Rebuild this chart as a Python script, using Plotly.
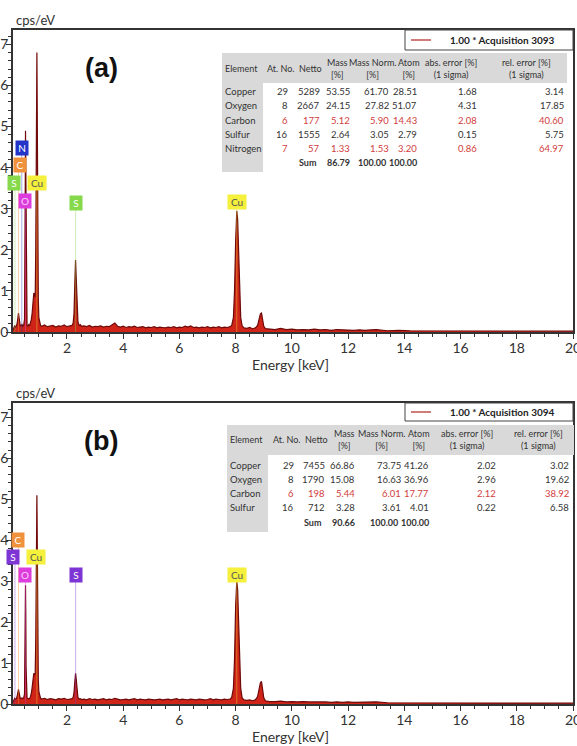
import plotly.graph_objects as go

# ---------------- data ----------------
energy_kev = [
    0.08, 0.11, 0.14, 0.17, 0.20, 0.23, 0.26, 0.275, 0.29, 0.31,
    0.34, 0.37, 0.40, 0.43, 0.46, 0.49, 0.505, 0.515, 0.525, 0.535,
    0.545, 0.56, 0.58, 0.61, 0.64, 0.67, 0.70, 0.73, 0.76, 0.79,
    0.82, 0.845, 0.87, 0.89, 0.91, 0.93, 0.945, 0.96, 0.98, 1.00,
    1.03, 1.06, 1.1, 1.2, 1.3, 1.4, 1.5, 1.6, 1.7, 1.8,
    1.9, 2.0, 2.1, 2.18, 2.22, 2.25, 2.28, 2.305, 2.33, 2.36,
    2.39, 2.43, 2.47, 2.52, 2.6, 2.7, 2.8, 2.9, 3.0, 3.1,
    3.2, 3.3, 3.4, 3.5, 3.6, 3.7, 3.8, 3.9, 4.0, 4.1,
    4.2, 4.3, 4.4, 4.5, 4.6, 4.7, 4.8, 4.9, 5.0, 5.1,
    5.2, 5.3, 5.4, 5.5, 5.6, 5.7, 5.8, 5.9, 6.0, 6.1,
    6.2, 6.3, 6.4, 6.5, 6.6, 6.7, 6.8, 6.9, 7.0, 7.1,
    7.2, 7.3, 7.4, 7.5, 7.6, 7.7, 7.8, 7.86, 7.92, 7.96,
    8.00, 8.04, 8.07, 8.10, 8.14, 8.18, 8.23, 8.3, 8.4, 8.5,
    8.6, 8.7, 8.78, 8.84, 8.88, 8.92, 8.96, 9.0, 9.06, 9.2,
    9.4, 9.6, 9.8, 10.0, 10.2, 10.4, 10.6, 10.8, 11.0, 11.2,
    11.4, 11.6, 11.8, 12.0, 12.2, 12.4, 12.6, 12.8, 13.0, 13.4,
    13.8, 14.2, 14.6, 15.0, 15.4, 15.8, 16.2, 16.6, 17.0, 17.4,
    17.8, 18.2, 18.6, 19.0, 19.4, 19.8, 20.0,
]

cps_a = [
    0.04, 0.10, 0.16, 0.12, 0.14, 0.22, 0.40, 0.46, 0.38, 0.18,
    0.14, 0.16, 0.18, 0.14, 0.17, 0.30, 1.20, 3.40, 4.90, 3.60,
    1.40, 0.35, 0.16, 0.14, 0.18, 0.15, 0.22, 0.30, 0.45, 0.70,
    0.95, 0.90, 0.85, 2.00, 5.20, 6.80, 5.00, 2.20, 0.80, 0.35,
    0.22, 0.16, 0.14, 0.17, 0.13, 0.15, 0.16, 0.12, 0.15, 0.14,
    0.17, 0.13, 0.15, 0.16, 0.22, 0.45, 1.20, 1.75, 1.30, 0.55,
    0.25, 0.15, 0.18, 0.14, 0.15, 0.13, 0.16, 0.12, 0.14, 0.13,
    0.15, 0.12, 0.14, 0.13, 0.17, 0.22, 0.14, 0.12, 0.14, 0.11,
    0.13, 0.12, 0.14, 0.11, 0.12, 0.13, 0.10, 0.12, 0.11, 0.13,
    0.10, 0.12, 0.11, 0.10, 0.12, 0.11, 0.13, 0.10, 0.12, 0.11,
    0.14, 0.12, 0.15, 0.11, 0.12, 0.10, 0.12, 0.11, 0.13, 0.10,
    0.12, 0.11, 0.13, 0.10, 0.12, 0.11, 0.13, 0.16, 0.35, 1.00,
    2.20, 2.95, 2.75, 1.90, 0.90, 0.35, 0.15, 0.10, 0.09, 0.11,
    0.08, 0.10, 0.16, 0.32, 0.44, 0.46, 0.30, 0.14, 0.08, 0.07,
    0.06, 0.09, 0.06, 0.07, 0.05, 0.06, 0.05, 0.07, 0.05, 0.06,
    0.04, 0.06, 0.05, 0.05, 0.04, 0.05, 0.04, 0.05, 0.06, 0.03,
    0.04, 0.03, 0.03, 0.02, 0.03, 0.02, 0.02, 0.03, 0.02, 0.02,
    0.02, 0.02, 0.02, 0.02, 0.02, 0.02, 0.02,
]

cps_b = [
    0.04, 0.10, 0.14, 0.12, 0.13, 0.20, 0.32, 0.36, 0.30, 0.16,
    0.13, 0.14, 0.15, 0.13, 0.15, 0.25, 0.90, 2.10, 2.90, 2.20,
    0.90, 0.28, 0.15, 0.13, 0.14, 0.13, 0.18, 0.25, 0.40, 0.62,
    0.75, 0.70, 0.75, 1.60, 3.80, 5.10, 3.80, 1.70, 0.60, 0.30,
    0.18, 0.14, 0.12, 0.14, 0.11, 0.13, 0.12, 0.10, 0.13, 0.12,
    0.14, 0.11, 0.12, 0.13, 0.16, 0.28, 0.55, 0.75, 0.60, 0.30,
    0.16, 0.12, 0.13, 0.11, 0.12, 0.10, 0.13, 0.11, 0.12, 0.10,
    0.11, 0.13, 0.10, 0.12, 0.11, 0.14, 0.12, 0.10, 0.11, 0.12,
    0.10, 0.11, 0.13, 0.10, 0.12, 0.11, 0.10, 0.12, 0.11, 0.10,
    0.11, 0.12, 0.10, 0.11, 0.12, 0.10, 0.11, 0.13, 0.10, 0.12,
    0.11, 0.10, 0.12, 0.11, 0.10, 0.12, 0.11, 0.10, 0.11, 0.13,
    0.10, 0.12, 0.11, 0.10, 0.12, 0.11, 0.12, 0.16, 0.38, 1.10,
    2.40, 3.00, 2.80, 2.00, 0.95, 0.38, 0.15, 0.10, 0.09, 0.10,
    0.08, 0.10, 0.18, 0.38, 0.52, 0.55, 0.35, 0.15, 0.08, 0.06,
    0.06, 0.07, 0.05, 0.06, 0.05, 0.06, 0.05, 0.05, 0.06, 0.05,
    0.04, 0.05, 0.04, 0.05, 0.04, 0.04, 0.05, 0.04, 0.05, 0.03,
    0.03, 0.03, 0.02, 0.03, 0.02, 0.02, 0.03, 0.02, 0.02, 0.02,
    0.02, 0.02, 0.02, 0.02, 0.02, 0.02, 0.02,
]

# element marker lines / labels
marker_symbols_a = ["S", "C", "N", "O", "Cu", "S", "Cu"]
marker_energy_a = [0.149, 0.277, 0.392, 0.525, 0.930, 2.307, 8.040]
marker_height_a = [3.62, 4.07, 4.49, 3.20, 3.62, 3.15, 3.17]

marker_symbols_b = ["S", "C", "O", "Cu", "S", "Cu"]
marker_energy_b = [0.149, 0.277, 0.525, 0.930, 2.307, 8.040]
marker_height_b = [3.60, 4.00, 3.15, 3.60, 3.15, 3.15]

# quantification tables
headers = ["Element", "At. No.", "Netto", "Mass<br>[%]", "Mass Norm.<br>[%]",
           "Atom<br>[%]", "abs. error [%]<br>(1 sigma)", "rel. error [%]<br>(1 sigma)"]

elements_a = ["Copper", "Oxygen", "Carbon", "Sulfur", "Nitrogen"]
at_no_a = [29, 8, 6, 16, 7]
netto_a = [5289, 2667, 177, 1555, 57]
mass_a = [53.55, 24.15, 5.12, 2.64, 1.33]
mass_norm_a = [61.70, 27.82, 5.90, 3.05, 1.53]
atom_a = [28.51, 51.07, 14.43, 2.79, 3.20]
abs_err_a = [1.68, 4.31, 2.08, 0.15, 0.86]
rel_err_a = [3.14, 17.85, 40.60, 5.75, 64.97]
flag_a = [False, False, True, False, True]
sum_a = [86.79, 100.00, 100.00]

elements_b = ["Copper", "Oxygen", "Carbon", "Sulfur"]
at_no_b = [29, 8, 6, 16]
netto_b = [7455, 1790, 198, 712]
mass_b = [66.86, 15.08, 5.44, 3.28]
mass_norm_b = [73.75, 16.63, 6.01, 3.61]
atom_b = [41.26, 36.96, 17.77, 4.01]
abs_err_b = [2.02, 2.96, 2.12, 0.22]
rel_err_b = [3.02, 19.62, 38.92, 6.58]
flag_b = [False, False, True, False]
sum_b = [90.66, 100.00, 100.00]

legend_a = "1.00 * Acquisition 3093"
legend_b = "1.00 * Acquisition 3094"

# ---------------- styling ----------------
W, H = 577, 746
def px(x):
    return x / W
def py(y):
    return 1 - y / H

FONT = "Lato, 'Open Sans', sans-serif"
TFONT = "Lato, 'Open Sans', sans-serif"
TXT = "#333333"
RED = "#d23c3c"
GRAY = "#d9d9d9"
SPEC_LINE = "#700a0a"
SPEC_FILL = "#cf2417"

elem_colors = {
    "a": {"S": ("#86d94a", "white"), "C": ("#f0913c", "white"), "N": ("#2334c9", "white"),
          "O": ("#dd3ddd", "#fbd0fb"), "Cu": ("#f4f03c", "#555555")},
    "b": {"S": ("#7d35d3", "white"), "C": ("#f0913c", "white"),
          "O": ("#dd3ddd", "#fbd0fb"), "Cu": ("#f4f03c", "#555555")},
}
label_xshift = {
    "a": [-1, 1, 0, -1, 0, 0, 0],
    "b": [-2, -1, -1, -1, 0, 0],
}

fig = go.Figure()
annotations = []
shapes = []

panels = [
    dict(key="a", xa="x", ya="y", cps=cps_a, sym=marker_symbols_a, me=marker_energy_a,
         mh=marker_height_a, top=30, bottom=332, letter="(a)", legend=legend_a,
         leg_box=(405, 573, 30, 50)),
    dict(key="b", xa="x2", ya="y2", cps=cps_b, sym=marker_symbols_b, me=marker_energy_b,
         mh=marker_height_b, top=403, bottom=704, letter="(b)", legend=legend_b,
         leg_box=(405, 573, 403, 421)),
]

for p in panels:
    fig.add_trace(go.Scatter(
        x=energy_kev, y=p["cps"], mode="lines", xaxis=p["xa"], yaxis=p["ya"],
        line=dict(color=SPEC_LINE, width=1.2), fill="tozeroy", fillcolor=SPEC_FILL,
        showlegend=False, hoverinfo="skip"))
    for i, (s, e, h) in enumerate(zip(p["sym"], p["me"], p["mh"])):
        col, tcol = elem_colors[p["key"]][s]
        fig.add_trace(go.Scatter(
            x=[e, e], y=[0, h], mode="lines", xaxis=p["xa"], yaxis=p["ya"],
            line=dict(color=col, width=1), opacity=0.4, showlegend=False, hoverinfo="skip"))
        annotations.append(dict(
            x=e, y=h, xref=p["xa"], yref=p["ya"], text=s, showarrow=False,
            xshift=label_xshift[p["key"]][i],
            font=dict(family=FONT, size=10, color=tcol), bgcolor=col,
            width=18 if s == "Cu" else 12, height=14, borderpad=0,
            xanchor="center", yanchor="middle"))
    # panel letter
    annotations.append(dict(x=px(101), y=py(p["top"] + 38), xref="paper", yref="paper",
                            text="<b>%s</b>" % p["letter"], showarrow=False,
                            font=dict(family="Liberation Sans, Arial", size=27, color="#111"),
                            xanchor="center", yanchor="middle"))
    # cps/eV
    annotations.append(dict(x=px(14), y=py(p["top"] - 10), xref="paper", yref="paper",
                            text="cps/eV", showarrow=False,
                            font=dict(family=FONT, size=13, color=TXT),
                            xanchor="left", yanchor="middle"))
    # x-axis title
    annotations.append(dict(x=px(290), y=py(p["bottom"] + 32), xref="paper", yref="paper",
                            text="Energy [keV]", showarrow=False,
                            font=dict(family=FONT, size=14, color=TXT),
                            xanchor="center", yanchor="middle"))
    # legend box
    x0, x1, y0, y1 = p["leg_box"]
    shapes.append(dict(type="rect", xref="paper", yref="paper", x0=px(x0), x1=px(x1),
                       y0=py(y1), y1=py(y0), line=dict(color="#444", width=1),
                       fillcolor="white"))
    ym = (y0 + y1) / 2
    shapes.append(dict(type="line", xref="paper", yref="paper", x0=px(x0 + 6), x1=px(x0 + 26),
                       y0=py(ym), y1=py(ym), line=dict(color="#c0504d", width=1.5)))
    annotations.append(dict(x=px(x0 + 43), y=py(ym), xref="paper", yref="paper",
                            text="<b>%s</b>" % p["legend"], showarrow=False,
                            font=dict(family=FONT, size=10, color="#222"),
                            xanchor="left", yanchor="middle"))


def add_table(geom, elements, cols, flags, sums):
    L, R, htop, hbot, ecol_r, bottom = geom["box"]
    shapes.append(dict(type="rect", xref="paper", yref="paper", x0=px(L), x1=px(R),
                       y0=py(hbot), y1=py(htop), line=dict(width=0), fillcolor=GRAY, layer="above"))
    shapes.append(dict(type="rect", xref="paper", yref="paper", x0=px(L), x1=px(ecol_r),
                       y0=py(bottom), y1=py(hbot), line=dict(width=0), fillcolor=GRAY, layer="above"))
    fh = dict(family=TFONT, size=9, color=TXT)
    f = dict(family=TFONT, size=9.5, color=TXT)
    fs = dict(family=TFONT, size=9, color=TXT)
    hy = (htop + hbot) / 2
    # headers
    annotations.append(dict(x=px(L + 1), y=py(hy), xref="paper", yref="paper", text=headers[0],
                            showarrow=False, font=fh, xanchor="left", yanchor="middle"))
    for hx, htxt in zip(geom["hcent"], headers[1:]):
        annotations.append(dict(x=px(hx), y=py(hy), xref="paper", yref="paper", text=htxt,
                                showarrow=False, font=fh, xanchor="center", yanchor="middle",
                                align="center"))
    # rows
    for r, name in enumerate(elements):
        yy = geom["row0"] + r * geom["dy"]
        annotations.append(dict(x=px(L + 1), y=py(yy), xref="paper", yref="paper", text=name,
                                showarrow=False, font=f, xanchor="left", yanchor="middle"))
        fc = dict(f, color=RED if flags[r] else TXT)
        for c, colvals in enumerate(cols):
            v = colvals[r]
            txt = str(v) if isinstance(v, int) else "%.2f" % v
            annotations.append(dict(x=px(geom["rights"][c]), y=py(yy), xref="paper", yref="paper",
                                    text=txt, showarrow=False, font=fc,
                                    xanchor="right", yanchor="middle"))
    yy = geom["row0"] + len(elements) * geom["dy"]
    annotations.append(dict(x=px(geom["rights"][1] - 3), y=py(yy), xref="paper", yref="paper",
                            text="<b>Sum</b>", showarrow=False, font=fs,
                            xanchor="right", yanchor="middle"))
    for c, v, dx in zip([2, 3, 4], sums, [0, -3, 0]):
        annotations.append(dict(x=px(geom["rights"][c] + dx), y=py(yy), xref="paper", yref="paper",
                                text="<b>%.2f</b>" % v, showarrow=False, font=fs,
                                xanchor="right", yanchor="middle"))


add_table(dict(box=(222, 567, 53, 83, 263, 172), row0=92, dy=14,
               rights=[290, 322, 352, 391, 419, 479, 566],
               hcent=[280, 310, 337, 372, 409, 451, 526]),
          elements_a, [at_no_a, netto_a, mass_a, mass_norm_a, atom_a, abs_err_a, rel_err_a],
          flag_a, sum_a)
add_table(dict(box=(227, 574, 425, 455, 268, 532), row0=465, dy=14.3,
               rights=[296, 327, 357, 403, 431, 498, 571],
               hcent=[286, 316, 344, 381, 419, 467, 538]),
          elements_b, [at_no_b, netto_b, mass_b, mass_norm_b, atom_b, abs_err_b, rel_err_b],
          flag_b, sum_b)

xstyle = dict(range=[0.08, 20], tick0=0, dtick=2, showline=True, linecolor="#333", linewidth=1.5,
              mirror=True, ticks="outside", ticklen=5, tickwidth=1.2, tickcolor="#333",
              minor=dict(dtick=0.5, ticks="outside", ticklen=3, tickcolor="#333"),
              showgrid=False, zeroline=False, automargin=False, ticklabeloverflow="allow",
              ticklabelstandoff=-3,
              tickfont=dict(family=FONT, size=14, color=TXT))
ystyle = dict(range=[0, 7.35], tick0=0, dtick=1, showline=True, linecolor="#333", linewidth=1.5,
              mirror=True, ticks="outside", ticklen=5, tickwidth=1.2, tickcolor="#333",
              minor=dict(dtick=0.2, ticks="outside", ticklen=3, tickcolor="#333"),
              showgrid=False, zeroline=False, ticklabelstandoff=-5, automargin=False,
              ticklabeloverflow="allow",
              tickfont=dict(family=FONT, size=14, color=TXT))

xdom = [px(13), px(573)]
fig.update_layout(
    width=W, height=H, margin=dict(l=0, r=0, t=0, b=0),
    paper_bgcolor="white", plot_bgcolor="white", showlegend=False,
    xaxis=dict(xstyle, domain=xdom, anchor="y"),
    yaxis=dict(ystyle, domain=[py(332), py(30)], anchor="x"),
    xaxis2=dict(xstyle, domain=xdom, anchor="y2"),
    yaxis2=dict(ystyle, domain=[py(704), py(403)], anchor="x2"),
    annotations=annotations, shapes=shapes,
)

fig.write_html("out.html", config={"displayModeBar": False},
               post_script="document.body.style.margin='0px';")
